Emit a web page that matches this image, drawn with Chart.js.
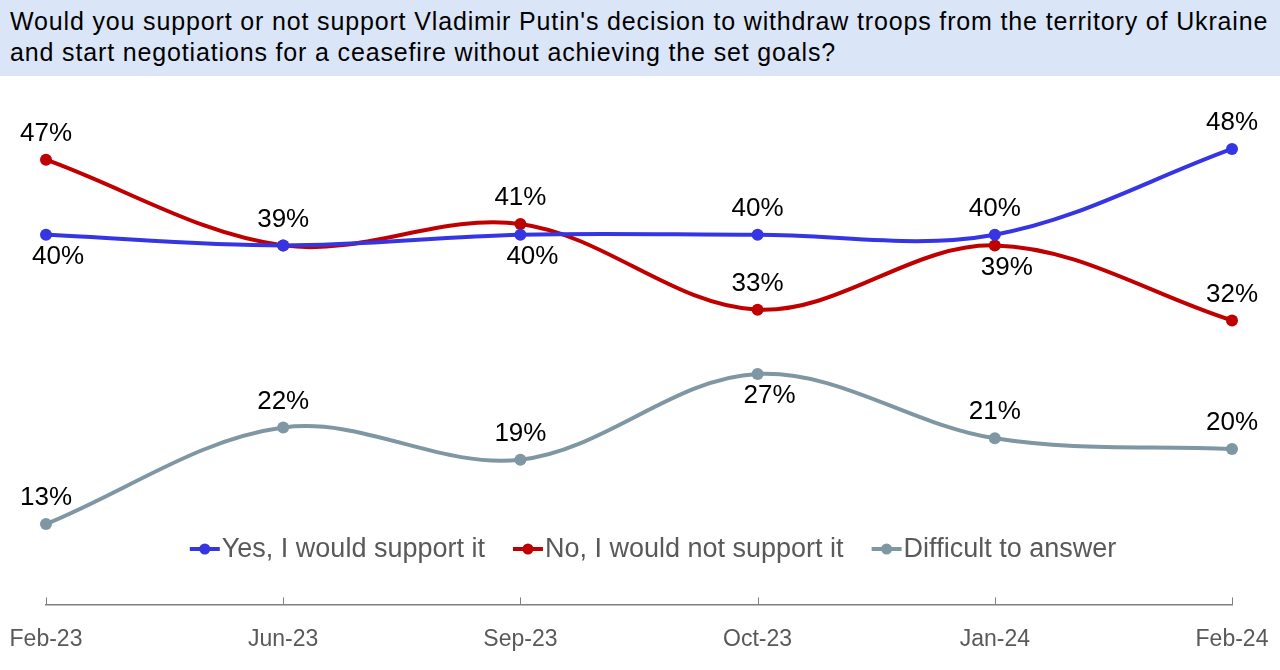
<!DOCTYPE html>
<html>
<head>
<meta charset="utf-8">
<script src="https://cdn.jsdelivr.net/npm/chart.js@4.4.1/dist/chart.umd.min.js"></script>
<style>
  body { margin: 0; background: #fff; font-family: "Liberation Sans", Arial, sans-serif; }
  #title {
    width: 1280px; height: 76px; box-sizing: border-box;
    background: #dae6f8; padding: 6px 0 0 10px;
    font-size: 25px; line-height: 31px; letter-spacing: 0.85px; color: #000;
  }
  canvas { display: block; }
</style>
</head>
<body>
<div id="title">Would you support or not support Vladimir Putin's decision to withdraw troops from the territory of Ukraine<br>and start negotiations for a ceasefire without achieving the set goals?</div>
<canvas id="chart" width="1280" height="594"></canvas>
<script>
// datos
const labels = ["Feb-23", "Jun-23", "Sep-23", "Oct-23", "Jan-24", "Feb-24"];
const yesValues = [40, 39, 40, 40, 40, 48];
const noValues = [47, 39, 41, 33, 39, 32];
const difficultValues = [13, 22, 19, 27, 21, 20];
const seriesNames = ["Yes, I would support it", "No, I would not support it", "Difficult to answer"];

// donde va cada etiqueta: "a" arriba, "b" abajo, "" ninguna
const yesLabelPos = ["b", "", "b", "a", "a", "a"];
const noLabelPos = ["a", "a", "a", "a", "b", "a"];
const difficultLabelPos = ["a", "a", "a", "b", "a", "a"];

const FONT = '"Liberation Sans", Arial, sans-serif';
const colors = ["#3535e3", "#c00000", "#7f96a3"];

// etiquetas de datos
const dataLabels = {
  id: "dataLabels",
  afterDatasetsDraw(chart) {
    const ctx = chart.ctx;
    const posList = [yesLabelPos, noLabelPos, difficultLabelPos];
    ctx.save();
    ctx.font = "26px " + FONT;
    ctx.fillStyle = "#000";
    ctx.textAlign = "center";
    ctx.textBaseline = "middle";
    chart.data.datasets.forEach((ds, i) => {
      chart.getDatasetMeta(i).data.forEach((pt, j) => {
        const pos = posList[i][j];
        if (!pos) return;
        const y = pos === "a" ? pt.y - 26 : pt.y + 22;
        const x = pos === "a" ? pt.x : pt.x + 12;
        ctx.fillText(ds.data[j] + "%", x, y);
      });
    });
    ctx.restore();
  },
};

// marcas del eje x hacia arriba
const tickMarks = {
  id: "tickMarks",
  afterDraw(chart) {
    const ctx = chart.ctx;
    const xs = chart.scales.x;
    const bottom = chart.chartArea.bottom;
    ctx.save();
    ctx.strokeStyle = "#808080";
    ctx.lineWidth = 1;
    labels.forEach((l, i) => {
      const x = Math.round(xs.getPixelForValue(i)) + 0.5;
      ctx.beginPath();
      ctx.moveTo(x, bottom);
      ctx.lineTo(x, bottom - 7);
      ctx.stroke();
    });
    ctx.restore();
  },
};

// leyenda dentro del area
const innerLegend = {
  id: "innerLegend",
  afterDraw(chart) {
    const ctx = chart.ctx;
    ctx.save();
    ctx.font = "27px " + FONT;
    ctx.textBaseline = "middle";
    const markW = 32, gap = 28;
    const widths = seriesNames.map((n) => markW + ctx.measureText(n).width);
    const total = widths.reduce((a, b) => a + b, 0) + gap * (seriesNames.length - 1);
    let x = 653 - total / 2;
    const y = 473;
    seriesNames.forEach((n, i) => {
      ctx.strokeStyle = colors[i];
      ctx.fillStyle = colors[i];
      ctx.lineWidth = 4;
      ctx.beginPath();
      ctx.moveTo(x, y);
      ctx.lineTo(x + markW - 2, y);
      ctx.stroke();
      ctx.beginPath();
      ctx.arc(x + (markW - 2) / 2, y, 5.5, 0, Math.PI * 2);
      ctx.fill();
      ctx.fillStyle = "#595959";
      ctx.fillText(n, x + markW, y + 1);
      x += widths[i] + gap;
    });
    ctx.restore();
  },
};

const makeDataset = (label, data, color) => ({
  label: label,
  data: data,
  borderColor: color,
  backgroundColor: color,
  borderWidth: 4,
  pointRadius: 6,
  pointHoverRadius: 6,
  pointBackgroundColor: color,
  pointBorderWidth: 0,
  tension: 0.35,
  fill: false,
});

new Chart(document.getElementById("chart"), {
  type: "line",
  data: {
    labels: labels,
    datasets: [
      makeDataset(seriesNames[0], yesValues, colors[0]),
      makeDataset(seriesNames[1], noValues, colors[1]),
      makeDataset(seriesNames[2], difficultValues, colors[2]),
    ],
  },
  options: {
    responsive: false,
    animation: false,
    layout: { autoPadding: false, padding: { left: 46, right: 48, top: 14, bottom: 4 } },
    plugins: {
      legend: { display: false },
      tooltip: { enabled: false },
    },
    scales: {
      x: {
        offset: false,
        grid: { display: false },
        border: { display: true, color: "#808080", width: 1.5 },
        ticks: {
          color: "#595959",
          font: { family: FONT, size: 23 },
          padding: 13,
          maxRotation: 0,
          autoSkip: false,
        },
        afterFit: (scale) => {
          scale.paddingLeft = 0;
          scale.paddingRight = 0;
        },
      },
      y: {
        display: false,
        min: 5.5,
        max: 53.5,
      },
    },
  },
  plugins: [dataLabels, tickMarks, innerLegend],
});
</script>
</body>
</html>
